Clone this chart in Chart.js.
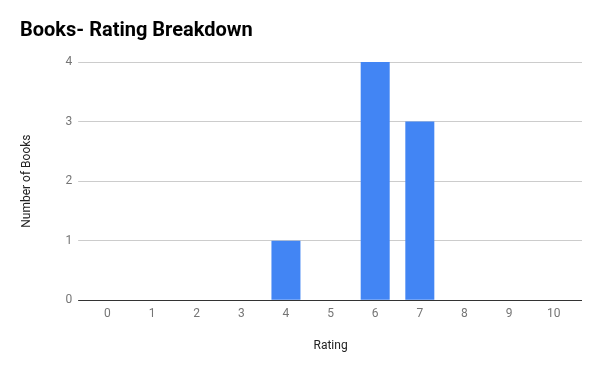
<!DOCTYPE html>
<html>
<head>
<meta charset="utf-8">
<script src="https://cdn.jsdelivr.net/npm/chart.js@4.4.0/dist/chart.umd.min.js"></script>
<style>
  html, body { margin: 0; padding: 0; background: #fff; }
  #wrap { width: 600px; height: 371px; }
</style>
</head>
<body>
<div id="wrap"><canvas id="chart" width="600" height="371"></canvas></div>
<script>
  // rating buckets and how many books got each
  const ratings = ["0", "1", "2", "3", "4", "5", "6", "7", "8", "9", "10"];
  const bookCounts = [0, 0, 0, 0, 1, 0, 4, 3, 0, 0, 0];
  const countTicks = [0, 1, 2, 3, 4];

  Chart.defaults.font.family = "Roboto, 'Noto Sans', sans-serif";

  const gridColor = (ctx) => (ctx.tick && ctx.tick.value === 0 ? "#333333" : "#cccccc");

  new Chart(document.getElementById("chart").getContext("2d"), {
    type: "bar",
    data: {
      labels: ratings,
      datasets: [{
        label: "Number of Books",
        data: bookCounts,
        backgroundColor: "#4285f4",
        borderWidth: 0,
        barPercentage: 0.65,
        categoryPercentage: 1
      }]
    },
    options: {
      responsive: false,
      animation: false,
      layout: { padding: { left: 20, right: 18, top: 0, bottom: 18 } },
      plugins: {
        legend: { display: false },
        tooltip: { enabled: false },
        title: {
          display: true,
          text: "Books- Rating Breakdown",
          align: "start",
          color: "#000000",
          font: { size: 20, weight: "bold" },
          padding: { top: 19, bottom: 19 }
        }
      },
      scales: {
        x: {
          grid: { display: false, drawTicks: false },
          border: { display: false },
          ticks: { color: "#757575", font: { size: 12 }, padding: 7, maxRotation: 0, autoSkip: false },
          title: { display: true, text: "Rating", color: "#222222", font: { size: 12 }, padding: { top: 10, bottom: 0 } }
        },
        y: {
          min: 0,
          max: 4,
          afterBuildTicks: (axis) => { axis.ticks = countTicks.map(v => ({ value: v })); },
          grid: { color: gridColor, tickLength: 7, lineWidth: 1 },
          border: { display: false },
          ticks: { color: "#757575", font: { size: 12 }, padding: 6 },
          title: { display: true, text: "Number of Books", color: "#222222", font: { size: 12 }, padding: { top: 0, bottom: 25 } }
        },
        y2: {
          position: "right",
          min: 0,
          max: 4,
          afterBuildTicks: (axis) => { axis.ticks = countTicks.map(v => ({ value: v })); },
          grid: { color: gridColor, tickLength: 6, drawOnChartArea: false },
          border: { display: false },
          ticks: { display: false }
        }
      }
    }
  });
</script>
</body>
</html>
